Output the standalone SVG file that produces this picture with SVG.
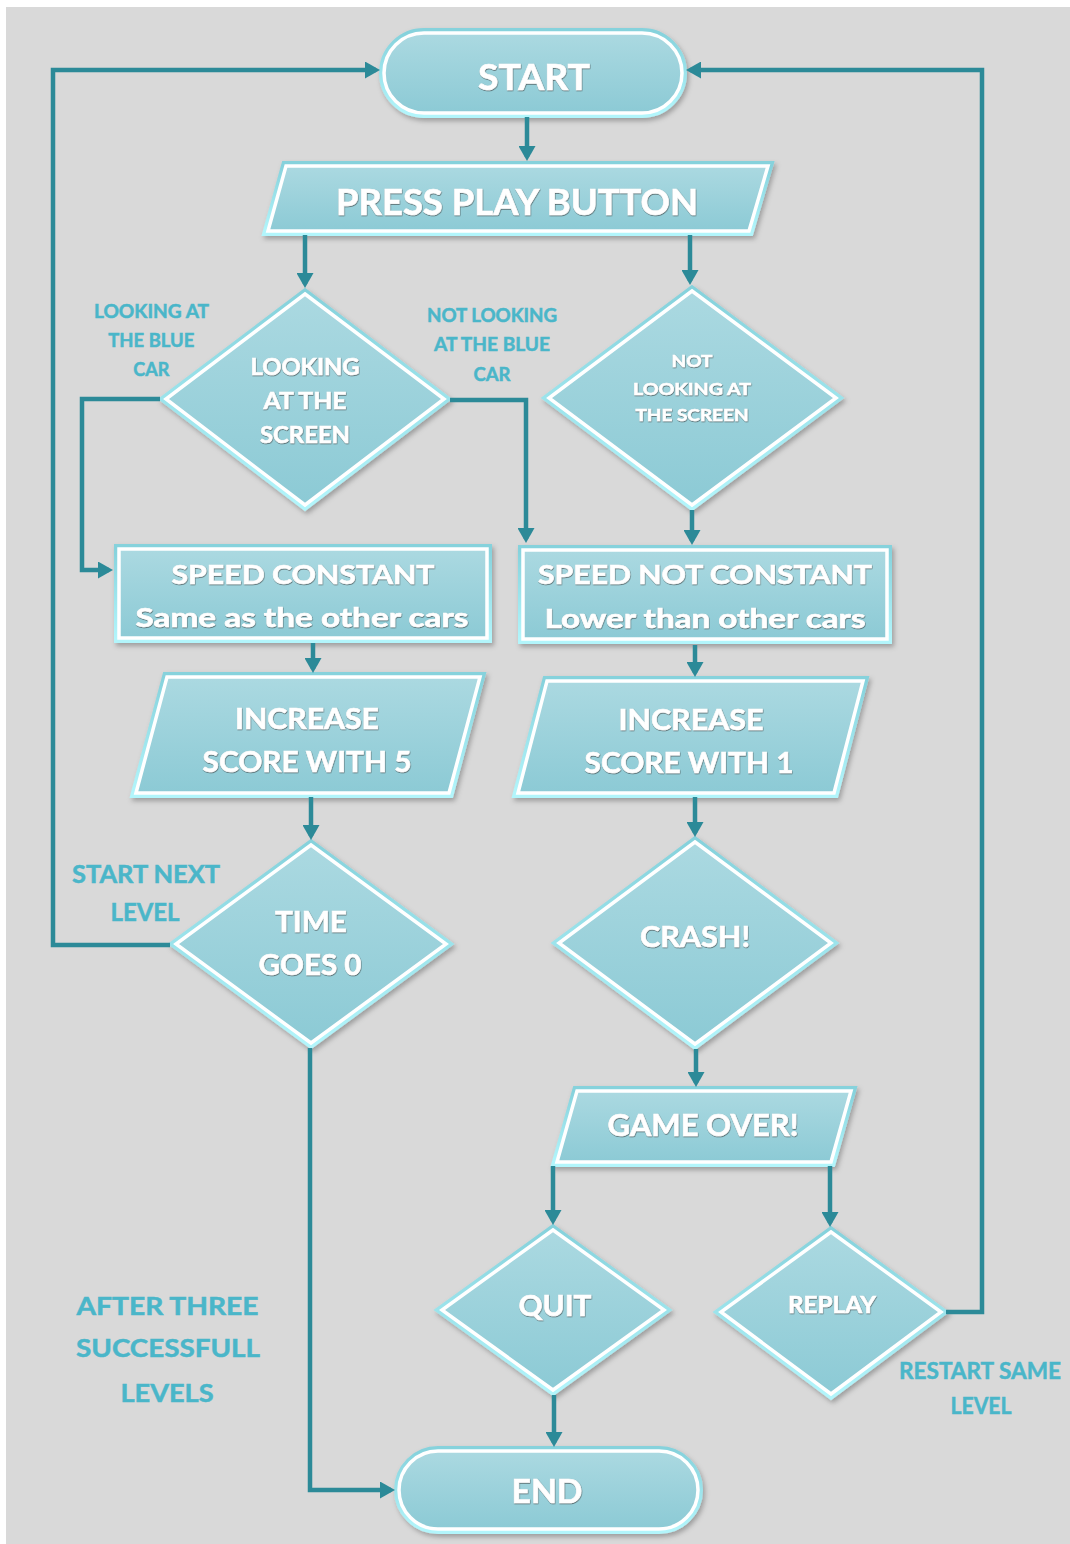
<svg xmlns="http://www.w3.org/2000/svg" width="1070" height="1544" viewBox="0 0 1070 1544">
<defs>
<linearGradient id="fg" x1="0" y1="0" x2="0" y2="1">
<stop offset="0" stop-color="#abd9e1"/>
<stop offset="1" stop-color="#8ccad5"/>
</linearGradient>
<linearGradient id="bg" x1="0" y1="0" x2="0" y2="1">
<stop offset="0" stop-color="#86d2dc"/>
<stop offset="1" stop-color="#b2f5fb"/>
</linearGradient>
<filter id="sh" x="-10%" y="-10%" width="125%" height="130%">
<feDropShadow dx="2" dy="3" stdDeviation="2.5" flood-color="#000" flood-opacity="0.28"/>
</filter>
<filter id="ts" x="-10%" y="-30%" width="120%" height="160%">
<feDropShadow dx="0.4" dy="0.7" stdDeviation="0.7" flood-color="#3a3a3a" flood-opacity="0.85"/>
</filter>
<marker id="ah" viewBox="0 0 15 17" refX="11" refY="8.5" markerWidth="15" markerHeight="17" markerUnits="userSpaceOnUse" orient="auto">
<path d="M0,0 L15,8.5 L0,17 z" fill="#2c8a98"/>
</marker>
<style>
.band{fill:none;stroke:url(#bg);stroke-width:10;stroke-linejoin:miter;filter:url(#sh)}
.face{fill:url(#fg);stroke:#ffffff;stroke-width:3.5;stroke-linejoin:miter}
.t{font-family:Lato,"Liberation Sans",sans-serif;font-weight:bold;fill:#ffffff;stroke:#ffffff;stroke-width:0.6;text-anchor:middle;filter:url(#ts)}
.l{font-family:Lato,"Liberation Sans",sans-serif;font-weight:bold;fill:#4ab6c9;stroke:#4ab6c9;stroke-width:0.5;text-anchor:middle}
.c{fill:none;stroke:#2c8a98;stroke-width:4.5;stroke-linejoin:miter;marker-end:url(#ah)}
</style>
</defs>
<rect x="0" y="0" width="1070" height="1544" fill="#ffffff"/>
<rect x="6" y="7" width="1064" height="1537" fill="#d9d9d9"/>

<g id="start">
<rect class="band" x="384" y="33" width="298" height="80" rx="40"/>
<rect class="face" x="384" y="33" width="298" height="80" rx="40"/>
<text class="t" x="534" y="90" font-size="36" textLength="112" lengthAdjust="spacingAndGlyphs">START</text>
</g>

<g id="press-play">
<polygon class="band" points="286,166 768,166 749,231 268,231"/>
<polygon class="face" points="286,166 768,166 749,231 268,231"/>
<text class="t" x="517" y="215" font-size="36" textLength="362" lengthAdjust="spacingAndGlyphs">PRESS PLAY BUTTON</text>
</g>

<g id="looking">
<polygon class="band" points="305,294 444,399 305,505 166,399"/>
<polygon class="face" points="305,294 444,399 305,505 166,399"/>
<text class="t" x="305" y="375" font-size="23" textLength="109" lengthAdjust="spacingAndGlyphs">LOOKING</text>
<text class="t" x="305" y="409" font-size="23" textLength="83" lengthAdjust="spacingAndGlyphs">AT THE</text>
<text class="t" x="305" y="443" font-size="23" textLength="90" lengthAdjust="spacingAndGlyphs">SCREEN</text>
</g>

<g id="not-looking">
<polygon class="band" points="692,291 836,398 692,505 549,398"/>
<polygon class="face" points="692,291 836,398 692,505 549,398"/>
<text class="t" x="692" y="367" font-size="17" textLength="41" lengthAdjust="spacingAndGlyphs">NOT</text>
<text class="t" x="692" y="395" font-size="17" textLength="118" lengthAdjust="spacingAndGlyphs">LOOKING AT</text>
<text class="t" x="692" y="421" font-size="17" textLength="113" lengthAdjust="spacingAndGlyphs">THE SCREEN</text>
</g>

<g id="speed-constant">
<rect class="band" x="119" y="549" width="368" height="89"/>
<rect class="face" x="119" y="549" width="368" height="89"/>
<text class="t" x="303" y="584" font-size="26" textLength="263" lengthAdjust="spacingAndGlyphs">SPEED CONSTANT</text>
<text class="t" x="302" y="627" font-size="26" textLength="333" lengthAdjust="spacingAndGlyphs">Same as the other cars</text>
</g>

<g id="speed-not-constant">
<rect class="band" x="523" y="550" width="364" height="89"/>
<rect class="face" x="523" y="550" width="364" height="89"/>
<text class="t" x="705" y="584" font-size="26" textLength="334" lengthAdjust="spacingAndGlyphs">SPEED NOT CONSTANT</text>
<text class="t" x="705" y="628" font-size="26" textLength="321" lengthAdjust="spacingAndGlyphs">Lower than other cars</text>
</g>

<g id="increase-5">
<polygon class="band" points="167,677 480,677 449,793 136,793"/>
<polygon class="face" points="167,677 480,677 449,793 136,793"/>
<text class="t" x="307" y="729" font-size="29" textLength="144" lengthAdjust="spacingAndGlyphs">INCREASE</text>
<text class="t" x="307" y="772" font-size="29" textLength="209" lengthAdjust="spacingAndGlyphs">SCORE WITH 5</text>
</g>

<g id="increase-1">
<polygon class="band" points="547,681 863,681 834,793 518,793"/>
<polygon class="face" points="547,681 863,681 834,793 518,793"/>
<text class="t" x="691" y="730" font-size="29" textLength="145" lengthAdjust="spacingAndGlyphs">INCREASE</text>
<text class="t" x="689" y="773" font-size="29" textLength="209" lengthAdjust="spacingAndGlyphs">SCORE WITH 1</text>
</g>

<g id="time-goes-0">
<polygon class="band" points="311,845 446,944 311,1043 176,944"/>
<polygon class="face" points="311,845 446,944 311,1043 176,944"/>
<text class="t" x="311" y="932" font-size="28" textLength="72" lengthAdjust="spacingAndGlyphs">TIME</text>
<text class="t" x="310" y="975" font-size="28" textLength="103" lengthAdjust="spacingAndGlyphs">GOES 0</text>
</g>

<g id="crash">
<polygon class="band" points="695,842 831,943 695,1044 559,943"/>
<polygon class="face" points="695,842 831,943 695,1044 559,943"/>
<text class="t" x="695" y="947" font-size="28" textLength="110" lengthAdjust="spacingAndGlyphs">CRASH!</text>
</g>

<g id="game-over">
<polygon class="band" points="577,1091 851,1091 831,1162 557,1162"/>
<polygon class="face" points="577,1091 851,1091 831,1162 557,1162"/>
<text class="t" x="703" y="1136" font-size="30" textLength="191" lengthAdjust="spacingAndGlyphs">GAME OVER!</text>
</g>

<g id="quit">
<polygon class="band" points="553,1230 664,1310 553,1390 442,1310"/>
<polygon class="face" points="553,1230 664,1310 553,1390 442,1310"/>
<text class="t" x="555" y="1316" font-size="29" textLength="73" lengthAdjust="spacingAndGlyphs">QUIT</text>
</g>

<g id="replay">
<polygon class="band" points="831,1232 941,1312 831,1394 721,1312"/>
<polygon class="face" points="831,1232 941,1312 831,1394 721,1312"/>
<text class="t" x="832" y="1313" font-size="23" textLength="88" lengthAdjust="spacingAndGlyphs">REPLAY</text>
</g>

<g id="end">
<rect class="band" x="399" y="1451" width="299" height="78" rx="39"/>
<rect class="face" x="399" y="1451" width="299" height="78" rx="39"/>
<text class="t" x="547" y="1503" font-size="32" textLength="71" lengthAdjust="spacingAndGlyphs">END</text>
</g>

<g id="labels">
<text class="l" x="151.5" y="318" font-size="18.5" textLength="115" lengthAdjust="spacingAndGlyphs">LOOKING AT</text>
<text class="l" x="151.3" y="347" font-size="18.5" textLength="86" lengthAdjust="spacingAndGlyphs">THE BLUE</text>
<text class="l" x="151.3" y="376" font-size="18.5" textLength="36" lengthAdjust="spacingAndGlyphs">CAR</text>
<text class="l" x="492" y="322" font-size="18.5" textLength="130" lengthAdjust="spacingAndGlyphs">NOT LOOKING</text>
<text class="l" x="492" y="351" font-size="18.5" textLength="116" lengthAdjust="spacingAndGlyphs">AT THE BLUE</text>
<text class="l" x="492" y="381" font-size="18.5" textLength="37" lengthAdjust="spacingAndGlyphs">CAR</text>
<text class="l" x="146" y="883" font-size="24" textLength="148" lengthAdjust="spacingAndGlyphs">START NEXT</text>
<text class="l" x="145" y="921" font-size="24" textLength="69" lengthAdjust="spacingAndGlyphs">LEVEL</text>
<text class="l" x="167.5" y="1315" font-size="25.5" textLength="182" lengthAdjust="spacingAndGlyphs">AFTER THREE</text>
<text class="l" x="168" y="1357" font-size="25.5" textLength="184" lengthAdjust="spacingAndGlyphs">SUCCESSFULL</text>
<text class="l" x="167" y="1402" font-size="25.5" textLength="93" lengthAdjust="spacingAndGlyphs">LEVELS</text>
<text class="l" x="980" y="1379" font-size="23.5" textLength="162" lengthAdjust="spacingAndGlyphs">RESTART SAME</text>
<text class="l" x="981" y="1414" font-size="23.5" textLength="61" lengthAdjust="spacingAndGlyphs">LEVEL</text>
</g>

<g id="connectors">
<path class="c" d="M527,117 V157"/>
<path class="c" d="M305,235 V284"/>
<path class="c" d="M690,235 V281"/>
<path class="c" d="M160,399 H82 V570 H109"/>
<path class="c" d="M450,400 H526 V539"/>
<path class="c" d="M692,510 V541"/>
<path class="c" d="M313,643 V669"/>
<path class="c" d="M695,645 V673"/>
<path class="c" d="M311,797 V836"/>
<path class="c" d="M695,797 V833"/>
<path class="c" d="M170,945 H53 V70 H376"/>
<path class="c" d="M310,1048 V1490 H391"/>
<path class="c" d="M696,1049 V1083"/>
<path class="c" d="M553,1166 V1221"/>
<path class="c" d="M830,1166 V1223"/>
<path class="c" d="M946,1312 H982 V70 H690"/>
<path class="c" d="M554,1395 V1443"/>
</g>
</svg>
